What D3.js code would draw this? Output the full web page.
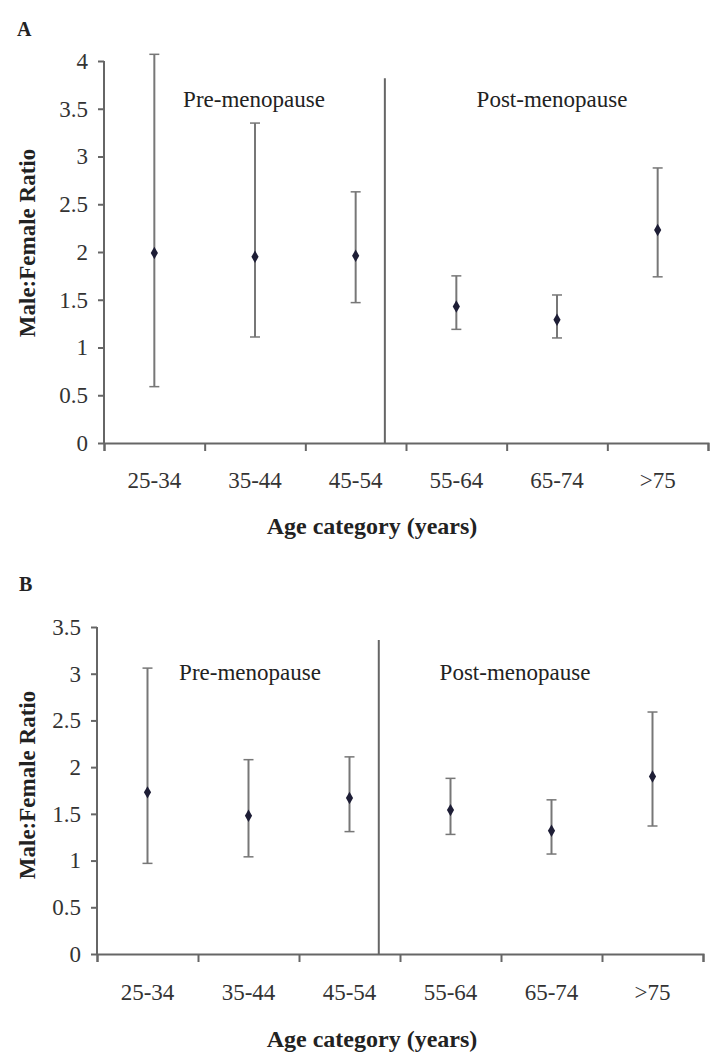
<!DOCTYPE html>
<html>
<head>
<meta charset="utf-8">
<script src="https://cdn.jsdelivr.net/npm/d3@7"></script>
<style>
  body { margin: 0; background: #fff; }
  svg { display: block; }
  .axis path, .axis line { stroke: #666; stroke-width: 2; }
  .axis text { font-family: "Liberation Serif", "DejaVu Serif", serif; font-size: 23px; fill: #333; }
</style>
</head>
<body>
<div id="chart"></div>
<script>
var ageCategories = ['25-34', '35-44', '45-54', '55-64', '65-74', '>75'];

// Panel A: male:female ratio with confidence limits
var ratioA = [1.99, 1.95, 1.96, 1.43, 1.29, 2.23];
var lowerA = [0.59, 1.11, 1.47, 1.19, 1.10, 1.74];
var upperA = [4.07, 3.35, 2.63, 1.75, 1.55, 2.88];
var ticksA = [0, 0.5, 1, 1.5, 2, 2.5, 3, 3.5, 4];

// Panel B
var ratioB = [1.73, 1.48, 1.67, 1.54, 1.32, 1.90];
var lowerB = [0.97, 1.04, 1.31, 1.28, 1.07, 1.37];
var upperB = [3.06, 2.08, 2.11, 1.88, 1.65, 2.59];
var ticksB = [0, 0.5, 1, 1.5, 2, 2.5, 3, 3.5];

// where the menopause divider sits, in category units, and how high it goes
var dividerAt = 2.79;
var dividerTopA = 3.82;
var dividerTopB = 3.36;

var serif = '"Liberation Serif", "DejaVu Serif", serif';

var svg = d3.select('#chart').append('svg')
    .attr('width', 710)
    .attr('height', 1056);

function drawPanel(opts) {
  var g = svg.append('g');

  var x = d3.scaleBand()
      .domain(ageCategories)
      .range([opts.left, opts.right]);
  var xPos = d3.scaleLinear()
      .domain([0, ageCategories.length])
      .range([opts.left, opts.right]);
  var y = d3.scaleLinear()
      .domain([0, opts.yMax])
      .range([opts.bottom, opts.top]);

  // y axis
  var yAxis = g.append('g')
      .attr('class', 'axis')
      .attr('transform', 'translate(' + opts.left + ',0)')
      .call(d3.axisLeft(y)
        .tickValues(opts.ticks)
        .tickFormat(d3.format('~g'))
        .tickSize(6)
        .tickPadding(10));
  yAxis.select('.domain').attr('d', 'M0,' + opts.bottom + 'V' + opts.top);

  // x axis: boundary ticks, then category labels
  g.append('g')
      .attr('class', 'axis')
      .attr('transform', 'translate(0,' + opts.bottom + ')')
      .call(d3.axisBottom(xPos)
        .tickValues(d3.range(ageCategories.length + 1))
        .tickFormat('')
        .tickSizeOuter(0)
        .tickSize(8));
  var xLabels = g.append('g')
      .attr('class', 'axis')
      .attr('transform', 'translate(0,' + opts.bottom + ')')
      .call(d3.axisBottom(x).tickSize(0));
  xLabels.select('.domain').remove();
  xLabels.selectAll('text').attr('y', opts.labelOffset).attr('dy', 0);

  // menopause divider
  g.append('line')
      .attr('x1', xPos(dividerAt))
      .attr('x2', xPos(dividerAt))
      .attr('y1', y(0))
      .attr('y2', y(opts.dividerTop))
      .attr('stroke', '#666')
      .attr('stroke-width', 2);

  var rows = ageCategories.map(function(c, i) {
    return { cat: c, ratio: opts.ratio[i], lo: opts.lower[i], hi: opts.upper[i] };
  });
  var cx = function(d) { return x(d.cat) + x.bandwidth() / 2; };

  var bars = g.selectAll('.err')
      .data(rows)
    .enter().append('g')
      .attr('class', 'err');
  bars.append('line')
      .attr('x1', cx).attr('x2', cx)
      .attr('y1', function(d) { return y(d.lo); })
      .attr('y2', function(d) { return y(d.hi); })
      .attr('stroke', '#777')
      .attr('stroke-width', 2);
  ['lo', 'hi'].forEach(function(k) {
    bars.append('line')
        .attr('x1', function(d) { return cx(d) - 5; })
        .attr('x2', function(d) { return cx(d) + 5; })
        .attr('y1', function(d) { return y(d[k]); })
        .attr('y2', function(d) { return y(d[k]); })
        .attr('stroke', '#777')
        .attr('stroke-width', 1.5);
  });
  bars.append('path')
      .attr('d', d3.symbol(d3.symbolDiamond, 45))
      .attr('transform', function(d) { return 'translate(' + cx(d) + ',' + y(d.ratio) + ')'; })
      .attr('fill', '#1e1e36');

  // region labels
  g.append('text')
      .attr('x', opts.preX).attr('y', opts.regionY)
      .attr('text-anchor', 'middle')
      .attr('font-family', serif).attr('font-size', 23).attr('fill', '#222')
      .text('Pre-menopause');
  g.append('text')
      .attr('x', opts.postX).attr('y', opts.regionY)
      .attr('text-anchor', 'middle')
      .attr('font-family', serif).attr('font-size', 23).attr('fill', '#222')
      .text('Post-menopause');

  // titles
  g.append('text')
      .attr('x', 372).attr('y', opts.bottom + opts.titleOffset)
      .attr('text-anchor', 'middle')
      .attr('font-family', serif).attr('font-size', 24).attr('font-weight', 'bold').attr('fill', '#222')
      .text('Age category (years)');
  g.append('text')
      .attr('transform', 'translate(35,' + opts.yTitleMid + ') rotate(-90)')
      .attr('text-anchor', 'middle')
      .attr('font-family', serif).attr('font-size', 23).attr('font-weight', 'bold').attr('fill', '#222')
      .text('Male:Female Ratio');
  g.append('text')
      .attr('x', opts.letterX).attr('y', opts.letterY)
      .attr('font-family', serif).attr('font-size', 20).attr('font-weight', 'bold').attr('fill', '#222')
      .text(opts.letter);
}

drawPanel({
  letter: 'A', letterX: 17, letterY: 36,
  left: 104, right: 708, top: 61, bottom: 443, yMax: 4,
  ticks: ticksA, ratio: ratioA, lower: lowerA, upper: upperA,
  dividerTop: dividerTopA,
  labelOffset: 45, titleOffset: 91, yTitleMid: 243,
  preX: 254, postX: 552, regionY: 107
});

drawPanel({
  letter: 'B', letterX: 19, letterY: 591,
  left: 97, right: 703, top: 627, bottom: 954, yMax: 3.5,
  ticks: ticksB, ratio: ratioB, lower: lowerB, upper: upperB,
  dividerTop: dividerTopB,
  labelOffset: 46, titleOffset: 93, yTitleMid: 785,
  preX: 250, postX: 515, regionY: 680
});
</script>
</body>
</html>
